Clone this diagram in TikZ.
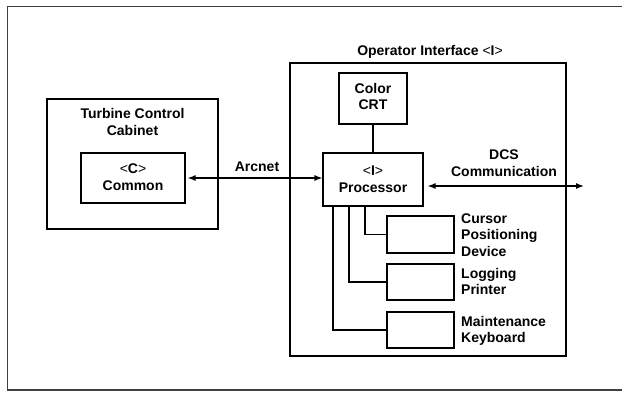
\documentclass[tikz,border=0pt]{standalone}
\usepackage{fontspec}
\setmainfont{Liberation Sans}
\usetikzlibrary{arrows.meta}
\newcommand{\lt}{{\mdseries<}}
\newcommand{\gt}{{\mdseries>}}
\begin{document}
\begin{tikzpicture}[x=1pt,y=-1pt,
  box/.style={draw, line width=1.2pt, inner sep=0pt},
  lbl/.style={font=\fontsize{14}{16.8}\selectfont\bfseries, align=center, inner sep=0pt},
  lbll/.style={font=\fontsize{14}{16.5}\selectfont\bfseries, align=left, inner sep=0pt, anchor=west},
  wire/.style={line width=1.2pt},
  arr/.style={line width=1.2pt, {Latex[length=8pt,width=6pt]}-{Latex[length=8pt,width=6pt]}}]
\useasboundingbox (0,0) rectangle (622,393);
% outer frame (open at right)
\draw[line width=1.5pt, black!75] (622,6.5) -- (7.5,6.5) -- (7.5,390) -- (622,390);

% Turbine Control Cabinet
\node[box, minimum width=171pt, minimum height=130pt] (tcc) at (132.5,164) {};
\node[lbl] (tcct) at (132.5,122) {Turbine Control\\Cabinet};
\node[box, minimum width=104pt, minimum height=50pt] (com) at (133,178) {};
\node[lbl] (comt) at (133,177) {\lt C\gt\\Common};

% Operator Interface
\node[box, minimum width=276pt, minimum height=293pt] (opi) at (428,209.5) {};
\node[lbl] (opit) at (430,52) {Operator Interface \lt I\gt};
\node[box, minimum width=68pt, minimum height=51pt] (crt) at (373,98.5) {};
\node[lbl] (crtt) at (373,96.5) {Color\\CRT};
\node[box, minimum width=100pt, minimum height=53pt] (proc) at (373,179.5) {};
\node[lbl] (proct) at (373,179) {\lt I\gt\\Processor};

\node[box, minimum width=67pt, minimum height=37pt] (cur) at (420.5,234.5) {};
\node[box, minimum width=67pt, minimum height=36pt] (log) at (420.5,282) {};
\node[box, minimum width=67pt, minimum height=36pt] (mnt) at (420.5,330) {};
\node[lbll] (curt) at (461,235) {Cursor\\Positioning\\Device};
\node[lbll] (logt) at (461,281.5) {Logging\\Printer};
\node[lbll] (mntt) at (461,331) {Maintenance\\Keyboard};

% connectors
\draw[wire] (crt.south) -- (proc.north);
\draw[wire] (proc.south -| 365,0) |- (cur.west);
\draw[wire] (proc.south -| 349,0) |- (log.west);
\draw[wire] (proc.south -| 333,0) |- (mnt.west);

\draw[arr, shorten <=2pt] (com.east |- 0,178) -- (proc.west |- 0,178);
\node[lbl] (arc) at (257,167) {Arcnet};

\coordinate (dcsend) at (584,186);
\draw[arr, shorten <=4pt] (proc.east |- 0,186) -- (dcsend);
\node[lbl] (dcst) at (504,163) {DCS\\Communication};
\end{tikzpicture}
\end{document}
